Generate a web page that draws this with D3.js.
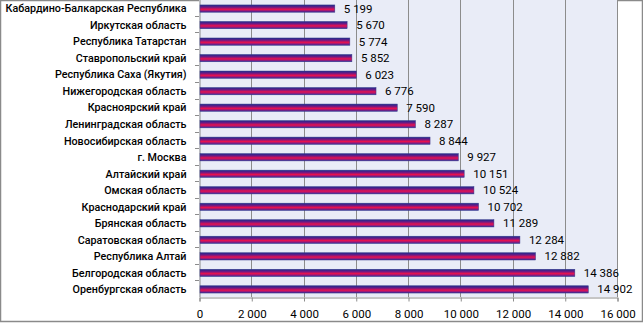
<!DOCTYPE html>
<html><head><meta charset="utf-8">
<script src="https://cdn.jsdelivr.net/npm/d3@7"></script>
<style>
html,body{margin:0;padding:0;background:#fff;}
svg{display:block;}
text{font-family:Roboto,"Open Sans",sans-serif;fill:#000;}
</style></head>
<body>
<svg id="chart" width="643" height="323"></svg>
<script>
// Regions, top to bottom
const regions = [
  "Кабардино-Балкарская Республика",
  "Иркутская область",
  "Республика Татарстан",
  "Ставропольский край",
  "Республика Саха (Якутия)",
  "Нижегородская область",
  "Красноярский край",
  "Ленинградская область",
  "Новосибирская область",
  "г. Москва",
  "Алтайский край",
  "Омская область",
  "Краснодарский край",
  "Брянская область",
  "Саратовская область",
  "Республика Алтай",
  "Белгородская область",
  "Оренбургская область"
];
const values = [5199, 5670, 5774, 5852, 6023, 6776, 7590, 8287, 8844, 9927,
                10151, 10524, 10702, 11289, 12284, 12882, 14386, 14902];
const xTicks = [0, 2000, 4000, 6000, 8000, 10000, 12000, 14000, 16000];

const W = 643, H = 323;
const plot = {left: 199, right: 617, top: -1, bottom: 297};
const svg = d3.select("#chart");

const fmt = v => d3.format(",")(v).replace(/,/g, " ");

const x = d3.scaleLinear().domain([0, 16000]).range([plot.left, plot.right]);
const y = d3.scaleBand().domain(regions).range([plot.top, plot.bottom]).paddingInner(0.56).paddingOuter(0.3).align(0.6);

// bar fill: blue edges, crimson middle
const defs = svg.append("defs");
const grad = defs.append("linearGradient").attr("id", "barGrad")
  .attr("x1", 0).attr("y1", 0).attr("x2", 0).attr("y2", 1);
[[0, "#1c2a8c"], [0.3, "#6a1a86"], [0.6, "#e8104e"], [0.8, "#9a1a78"], [1, "#2a2a9a"]]
  .forEach(([o, c]) => grad.append("stop").attr("offset", o).attr("stop-color", c));

// chart frame
svg.append("rect").attr("x", 0.5).attr("y", 0.5).attr("width", W - 1).attr("height", H - 2)
  .attr("fill", "#fff").attr("stroke", "#8a8a8a").attr("stroke-width", 1.5);

// plot area
svg.append("rect").attr("x", plot.left).attr("y", plot.top)
  .attr("width", plot.right - plot.left).attr("height", plot.bottom - plot.top)
  .attr("fill", "#e9ecf7");

// vertical gridlines
svg.append("g").selectAll("line").data(xTicks.slice(1)).join("line")
  .attr("x1", d => Math.round(x(d)) + 0.5).attr("x2", d => Math.round(x(d)) + 0.5)
  .attr("y1", plot.top).attr("y2", plot.bottom)
  .attr("stroke", "#8c8c8c").attr("stroke-width", 1);

// x axis
const xAxis = svg.append("g").attr("transform", `translate(0.5,${plot.bottom + 0.5})`)
  .call(d3.axisBottom(x).tickValues(xTicks).tickFormat(fmt).tickSize(4).tickPadding(8));
xAxis.select(".domain").attr("stroke", "#8c8c8c");
xAxis.selectAll(".tick line").attr("stroke", "#8c8c8c");
xAxis.selectAll("text").attr("font-size", 11.5).attr("font-family", "Roboto, sans-serif").attr("fill", "#000");

// y axis
const yAxis = svg.append("g").attr("transform", `translate(${plot.left + 0.5},0)`)
  .call(d3.axisLeft(y).tickSize(0).tickPadding(13));
yAxis.select(".domain").attr("stroke", "#8c8c8c");
yAxis.selectAll("text").attr("font-size", 11.8).attr("font-weight", 500)
  .attr("font-family", "Roboto, sans-serif").attr("fill", "#000");
// slightly condensed category labels
yAxis.selectAll("text").each(function () {
  const w = this.getComputedTextLength();
  d3.select(this).attr("textLength", w * 0.91).attr("lengthAdjust", "spacingAndGlyphs");
});
// category boundary ticks
svg.append("g").selectAll("line").data(regions.slice(1)).join("line")
  .attr("x1", plot.left - 4).attr("x2", plot.left)
  .attr("y1", d => Math.round(y(d) - y.step() * y.paddingInner() * 0.6) + 0.5)
  .attr("y2", d => Math.round(y(d) - y.step() * y.paddingInner() * 0.6) + 0.5)
  .attr("stroke", "#8c8c8c");

// bars
svg.append("g").selectAll("rect").data(values).join("rect")
  .attr("x", x(0) + 1)
  .attr("y", (d, i) => y(regions[i]))
  .attr("width", d => x(d) - x(0) - 1)
  .attr("height", y.bandwidth())
  .attr("fill", "url(#barGrad)")
  .attr("stroke", "#3a3a8a").attr("stroke-width", 0.5);

// value labels
svg.append("g").selectAll("text").data(values).join("text")
  .attr("x", d => x(d) + 9)
  .attr("y", (d, i) => y(regions[i]) + y.bandwidth() / 2)
  .attr("dy", "0.35em")
  .attr("font-size", 11.5)
  .text(fmt);
</script>
</body></html>
